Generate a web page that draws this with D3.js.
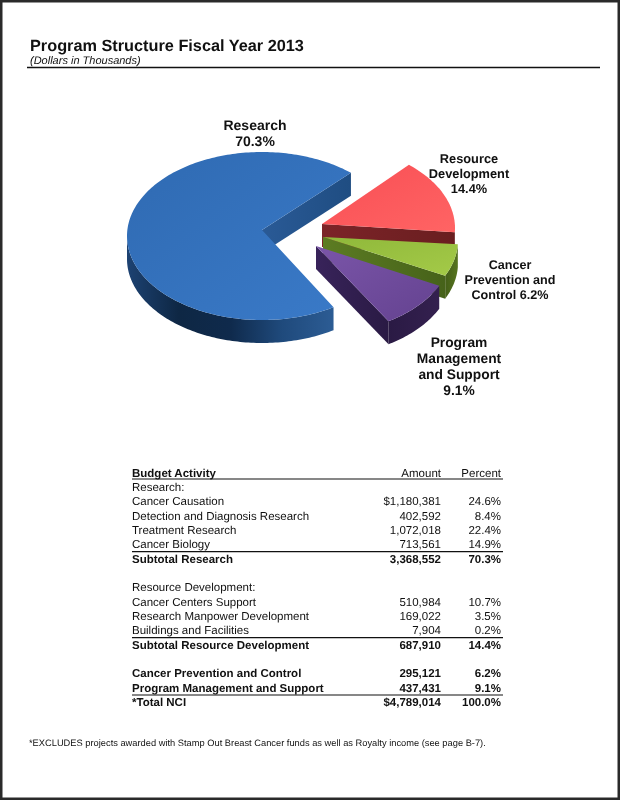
<!DOCTYPE html>
<html><head><meta charset="utf-8">
<script src="https://cdn.jsdelivr.net/npm/d3@7/dist/d3.min.js"></script>
<style>html,body{margin:0;padding:0;background:#fff}svg{display:block;filter:blur(0.35px)}text{font-family:"Liberation Sans",Arial,sans-serif;fill:#111;text-rendering:geometricPrecision}</style>
</head><body><div id="c"></div>
<script>
const pieNames = ["Research","Resource Development","Cancer Prevention and Control","Program Management and Support"];
const pieValues = [3368552,687910,295121,437431];
const pieLabels = [["Research","70.3%"],["Resource","Development","14.4%"],["Cancer","Prevention and","Control 6.2%"],["Program","Management","and Support","9.1%"]];
const tableRows = ["Research:","Cancer Causation","Detection and Diagnosis Research","Treatment Research","Cancer Biology","Subtotal Research","","Resource Development:","Cancer Centers Support","Research Manpower Development","Buildings and Facilities","Subtotal Resource Development","","Cancer Prevention and Control","Program Management and Support","*Total NCI"];
const tableAmounts = ["","$1,180,381","402,592","1,072,018","713,561","3,368,552","","","510,984","169,022","7,904","687,910","","295,121","437,431","$4,789,014"];
const tablePercents = ["","24.6%","8.4%","22.4%","14.9%","70.3%","","","10.7%","3.5%","0.2%","14.4%","","6.2%","9.1%","100.0%"];
const boldRows = ["Subtotal Research","Subtotal Resource Development","Cancer Prevention and Control","Program Management and Support","*Total NCI"];
const ruledAbove = ["Subtotal Research","Subtotal Resource Development","*Total NCI"];

const W=620,H=800;
const svg=d3.select("#c").append("svg").attr("width",W).attr("height",H);
const defs=svg.append("defs");
// page frame
svg.append("rect").attr("x",1.25).attr("y",1.25).attr("width",W-2.5).attr("height",H-2.5).attr("fill","#fff").attr("stroke","#2a2a2a").attr("stroke-width",2.5);
// header
svg.append("text").attr("x",30).attr("y",51).attr("font-size",16.3).attr("font-weight",700).text("Program Structure Fiscal Year 2013");
svg.append("text").attr("x",30).attr("y",64).attr("font-size",11).attr("font-style","italic").text("(Dollars in Thousands)");
svg.append("line").attr("x1",27).attr("x2",600).attr("y1",67.5).attr("y2",67.5).attr("stroke","#111").attr("stroke-width",1.4);

// pie
const RX=135,RY=84,DEPTH=23;
const layout=[
 {cx:262,cy:236,ax:262,ay:230,
  top:["#2f6ab2","#3a7ac8"],wallStops:["#2c5c94","#1f4a7c","#0f2a4c","#0e2744","#1d4272"],side:["#2a5a96","#1f4d82"]},
 {cx:320,cy:228,ax:322,ay:224,
  top:["#f84e54","#ff6464"],wallStops:["#7a2428","#6f1f22"],side:["#7c2428","#6a1e20"]},
 {cx:323,cy:240,ax:323,ay:237,
  top:["#8fb83a","#a4ca48"],wallStops:["#56741f","#445e18"],side:["#5c7c22","#46621a"]},
 {cx:317,cy:250,ax:316,ay:246,
  top:["#7a55a8","#644290"],wallStops:["#34204f","#2a1a44"],side:["#38235a","#2a1a44"]}
];
const pie=d3.pie().sort(null).startAngle(148*Math.PI/180).endAngle(508*Math.PI/180);
const arcs=pie(pieValues);
function grad(id,stops,x1,y1,x2,y2){
  const g=defs.append("linearGradient").attr("id",id).attr("x1",x1).attr("y1",y1).attr("x2",x2).attr("y2",y2);
  stops.forEach((c,i)=>g.append("stop").attr("offset",stops.length>1?i/(stops.length-1):0).attr("stop-color",c));
}
const pt=(l,a,d=0)=>[l.cx+RX*Math.sin(a),l.cy-RY*Math.cos(a)+d];
const line=d3.line();
const chart=svg.append("g");
arcs.forEach((arc,i)=>{
  const l=layout[i];
  grad("top"+i,l.top,"0","0","1","1");
  grad("wall"+i,l.wallStops,"1","0","0","0");
  grad("side"+i,l.side,"0","0","1","0");
  const shift=arc.startAngle>=2*Math.PI?2*Math.PI:0;
  const a0=arc.startAngle-shift,a1=arc.endAngle-shift;
  // side wall at the slice's closing edge
  const e=pt(l,a1),eb=pt(l,a1,DEPTH);
  chart.append("path").attr("d",line([[l.ax,l.ay],e,eb,[l.ax,l.ay+DEPTH]])+"Z").attr("fill",`url(#side${i})`);
  // outer wall: the part of the rim that faces the viewer
  const lo=Math.max(a0,Math.PI/2),hi=Math.min(a1,3*Math.PI/2);
  if(hi>lo){
    const ts=d3.range(lo,hi,0.02).concat([hi]);
    const up=ts.map(t=>pt(l,t)),dn=ts.map(t=>pt(l,t,DEPTH)).reverse();
    chart.append("path").attr("d",line(up.concat(dn))+"Z").attr("fill",`url(#wall${i})`);
  }
  // top face
  const ts=d3.range(a0,a1,0.02).concat([a1]);
  chart.append("path").attr("d",line([[l.ax,l.ay]].concat(ts.map(t=>pt(l,t))))+"Z").attr("fill",`url(#top${i})`);
});
// pie labels
const labelPos=[{x:255,y:[130,146],fs:14},{x:469,y:[163,178,193],fs:12.8},{x:510,y:[269,284,299],fs:12.6},{x:459,y:[347,363,379,395],fs:13.8}];
pieLabels.forEach((ls,i)=>{
  ls.forEach((s,j)=>svg.append("text").attr("x",labelPos[i].x).attr("y",labelPos[i].y[j]).attr("text-anchor","middle").attr("font-size",labelPos[i].fs).attr("font-weight",700).text(s));
});

// table
const y=d3.scaleLinear().domain([0,15]).range([491,706]);
const T={l:132,a:441,p:501,r:503,fs:11.5};
const rows=svg.append("g").attr("font-size",T.fs);
rows.append("text").attr("x",T.l).attr("y",476.5).attr("font-weight",700).attr("font-size",T.fs).text("Budget Activity");
rows.append("text").attr("x",T.a).attr("y",476.5).attr("text-anchor","end").attr("font-size",T.fs).text("Amount");
rows.append("text").attr("x",T.p).attr("y",476.5).attr("text-anchor","end").attr("font-size",T.fs).text("Percent");
rows.append("line").attr("x1",T.l).attr("x2",T.r).attr("y1",479).attr("y2",479).attr("stroke","#111").attr("stroke-width",1.2);
tableRows.forEach((name,i)=>{
  const b=boldRows.includes(name)?700:400, yy=y(i);
  rows.append("text").attr("x",T.l).attr("y",yy).attr("font-weight",b).attr("font-size",T.fs).text(name);
  rows.append("text").attr("x",T.a).attr("y",yy).attr("text-anchor","end").attr("font-weight",b).attr("font-size",T.fs).text(tableAmounts[i]);
  rows.append("text").attr("x",T.p).attr("y",yy).attr("text-anchor","end").attr("font-weight",b).attr("font-size",T.fs).text(tablePercents[i]);
  if(ruledAbove.includes(name)) rows.append("line").attr("x1",T.l).attr("x2",T.r).attr("y1",yy-11).attr("y2",yy-11).attr("stroke","#111").attr("stroke-width",1.2);
});
svg.append("text").attr("x",29).attr("y",746).attr("font-size",9.3).text("*EXCLUDES projects awarded with Stamp Out Breast Cancer funds as well as Royalty income (see page B-7).");
</script></body></html>
